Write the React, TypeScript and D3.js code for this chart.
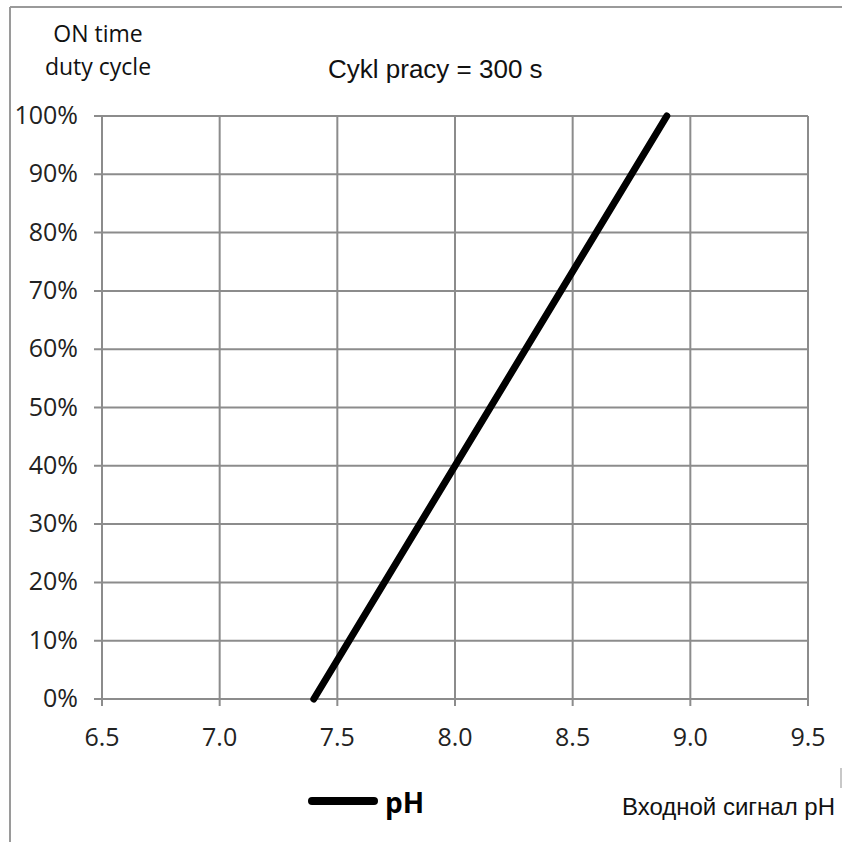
import React from "react";
import * as d3 from "d3";

const xTicks = [6.5, 7.0, 7.5, 8.0, 8.5, 9.0, 9.5];
const yTicks = [0, 10, 20, 30, 40, 50, 60, 70, 80, 90, 100];
const phValues = [7.4, 8.9];
const dutyValues = [0, 100];
const seriesName = "pH";
const title = "Cykl pracy = 300 s";
const yTitle = ["ON time", "duty cycle"];
const xTitle = "Входной сигнал pH";

export default function App() {
  const W = 842, H = 842;
  const x = d3.scaleLinear().domain([6.5, 9.5]).range([102, 808]);
  const y = d3.scaleLinear().domain([0, 100]).range([699, 116]);
  const pts = phValues.map((v, i) => [x(v), y(dutyValues[i])] as [number, number]);
  const line = d3.line();
  const grid = "#8c8c8c";
  const tickFont = "'Open Sans', 'DejaVu Sans', sans-serif";
  const arial = "'Liberation Sans', Arial, sans-serif";
  return (
    <svg width={W} height={H} style={{ position: "absolute", left: 0, top: 0, background: "#fff" }}>
      <rect x={0} y={0} width={W} height={H} fill="#fff" />
      {/* frame */}
      <line x1={10} y1={7} x2={842} y2={7} stroke="#9a9a9a" strokeWidth={2} />
      <line x1={10} y1={7} x2={10} y2={842} stroke="#9a9a9a" strokeWidth={2} />
      <line x1={841} y1={768} x2={841} y2={788} stroke="#c8c8c8" strokeWidth={2} />
      {/* grid */}
      {yTicks.map((t) => (
        <line key={"gy" + t} x1={x(6.5) - 8} x2={x(9.5)} y1={y(t)} y2={y(t)} stroke={grid} strokeWidth={2} />
      ))}
      {xTicks.map((t) => (
        <line key={"gx" + t} x1={x(t)} x2={x(t)} y1={y(100)} y2={y(0) + 7} stroke={grid} strokeWidth={2} />
      ))}
      {/* tick labels */}
      {yTicks.map((t) => (
        <text key={"ly" + t} x={78} y={y(t) + 8} textAnchor="end" fontFamily={tickFont} fontSize={25} fill="#222">
          {t + "%"}
        </text>
      ))}
      {xTicks.map((t) => (
        <text key={"lx" + t} x={x(t)} y={746} textAnchor="middle" fontFamily={tickFont} fontSize={25} fill="#222">
          {t.toFixed(1)}
        </text>
      ))}
      {/* data line */}
      <path d={line(pts) || ""} stroke="#000" strokeWidth={7} fill="none" strokeLinecap="round" />
      {/* titles */}
      <text x={98} y={42} textAnchor="middle" fontFamily={tickFont} fontSize={23} fill="#111">{yTitle[0]}</text>
      <text x={98} y={75} textAnchor="middle" fontFamily={tickFont} fontSize={23} fill="#111">{yTitle[1]}</text>
      <text x={328} y={78} fontFamily={arial} fontSize={26} fill="#111">{title}</text>
      {/* legend */}
      <line x1={312} x2={374} y1={801} y2={801} stroke="#000" strokeWidth={8} strokeLinecap="round" />
      <text x={385} y={813} fontFamily={tickFont} fontWeight="bold" fontSize={28} fill="#000">{seriesName}</text>
      <text x={835} y={815} textAnchor="end" fontFamily={arial} fontSize={24} fill="#111">{xTitle}</text>
    </svg>
  );
}
